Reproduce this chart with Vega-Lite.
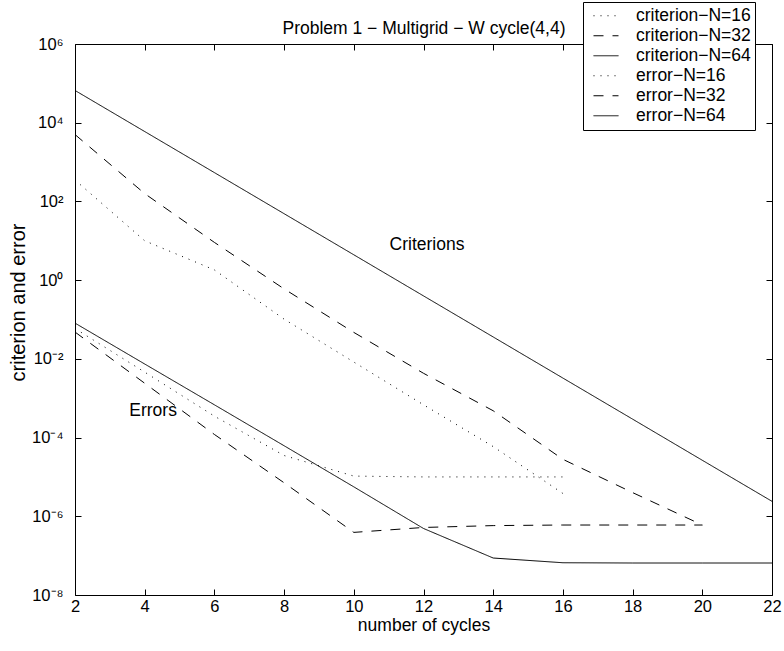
{
  "$schema": "https://vega.github.io/schema/vega-lite/v6.json",
  "width": 697,
  "height": 551,
  "autosize": {"type": "none"},
  "padding": {"left": 75, "top": 44, "right": 12, "bottom": 56},
  "background": "white",
  "config": {
    "font": "Liberation Sans",
    "view": {"stroke": "black", "strokeWidth": 1},
    "axis": {
      "grid": false,
      "domain": false,
      "tickColor": "black",
      "tickWidth": 1,
      "tickSize": -6,
      "labelColor": "black",
      "labelFont": "Liberation Sans",
      "labelFontSize": 16.5,
      "titleColor": "black",
      "titleFont": "Liberation Sans",
      "titleFontSize": 17.5,
      "titleFontWeight": "normal"
    }
  },
  "datasets": {
    "runs": [
      {"series": "criterion−N=16", "cycle": 2, "value": 350},
      {"series": "criterion−N=16", "cycle": 4, "value": 10},
      {"series": "criterion−N=16", "cycle": 6, "value": 1.82},
      {"series": "criterion−N=16", "cycle": 8, "value": 0.102},
      {"series": "criterion−N=16", "cycle": 10, "value": 0.0083},
      {"series": "criterion−N=16", "cycle": 12, "value": 0.00068},
      {"series": "criterion−N=16", "cycle": 14, "value": 0.000059},
      {"series": "criterion−N=16", "cycle": 16, "value": 0.0000038},

      {"series": "criterion−N=32", "cycle": 2, "value": 5000},
      {"series": "criterion−N=32", "cycle": 4, "value": 158},
      {"series": "criterion−N=32", "cycle": 6, "value": 9.1},
      {"series": "criterion−N=32", "cycle": 8, "value": 0.6},
      {"series": "criterion−N=32", "cycle": 10, "value": 0.047},
      {"series": "criterion−N=32", "cycle": 12, "value": 0.0043},
      {"series": "criterion−N=32", "cycle": 14, "value": 0.00048},
      {"series": "criterion−N=32", "cycle": 16, "value": 0.000028},
      {"series": "criterion−N=32", "cycle": 18, "value": 0.000004},
      {"series": "criterion−N=32", "cycle": 20, "value": 0.0000006},

      {"series": "criterion−N=64", "cycle": 2, "value": 66000},
      {"series": "criterion−N=64", "cycle": 4, "value": 5970},
      {"series": "criterion−N=64", "cycle": 6, "value": 540},
      {"series": "criterion−N=64", "cycle": 8, "value": 48.8},
      {"series": "criterion−N=64", "cycle": 10, "value": 4.41},
      {"series": "criterion−N=64", "cycle": 12, "value": 0.398},
      {"series": "criterion−N=64", "cycle": 14, "value": 0.036},
      {"series": "criterion−N=64", "cycle": 16, "value": 0.00325},
      {"series": "criterion−N=64", "cycle": 18, "value": 0.000294},
      {"series": "criterion−N=64", "cycle": 20, "value": 0.0000265},
      {"series": "criterion−N=64", "cycle": 22, "value": 0.0000024},

      {"series": "error−N=16", "cycle": 2, "value": 0.059},
      {"series": "error−N=16", "cycle": 4, "value": 0.0046},
      {"series": "error−N=16", "cycle": 6, "value": 0.00035},
      {"series": "error−N=16", "cycle": 8, "value": 0.000035},
      {"series": "error−N=16", "cycle": 10, "value": 0.0000105},
      {"series": "error−N=16", "cycle": 12, "value": 0.00001},
      {"series": "error−N=16", "cycle": 14, "value": 0.00001},
      {"series": "error−N=16", "cycle": 16, "value": 0.00001},

      {"series": "error−N=32", "cycle": 2, "value": 0.048},
      {"series": "error−N=32", "cycle": 4, "value": 0.0024},
      {"series": "error−N=32", "cycle": 6, "value": 0.00012},
      {"series": "error−N=32", "cycle": 8, "value": 0.0000071},
      {"series": "error−N=32", "cycle": 10, "value": 0.00000039},
      {"series": "error−N=32", "cycle": 12, "value": 0.00000052},
      {"series": "error−N=32", "cycle": 14, "value": 0.00000058},
      {"series": "error−N=32", "cycle": 16, "value": 0.0000006},
      {"series": "error−N=32", "cycle": 18, "value": 0.0000006},
      {"series": "error−N=32", "cycle": 20, "value": 0.0000006},

      {"series": "error−N=64", "cycle": 2, "value": 0.081},
      {"series": "error−N=64", "cycle": 4, "value": 0.0074},
      {"series": "error−N=64", "cycle": 6, "value": 0.00068},
      {"series": "error−N=64", "cycle": 8, "value": 0.000062},
      {"series": "error−N=64", "cycle": 10, "value": 0.0000056},
      {"series": "error−N=64", "cycle": 12, "value": 0.00000049},
      {"series": "error−N=64", "cycle": 14, "value": 0.000000087},
      {"series": "error−N=64", "cycle": 16, "value": 0.000000066},
      {"series": "error−N=64", "cycle": 18, "value": 0.000000065},
      {"series": "error−N=64", "cycle": 20, "value": 0.000000065},
      {"series": "error−N=64", "cycle": 22, "value": 0.000000065}
    ],
    "notes": [
      {"label": "Criterions", "cycle": 12.1, "value": 7.9},
      {"label": "Errors", "cycle": 4.24, "value": 0.00047}
    ]
  },
  "layer": [
    {
      "data": {"name": "runs"},
      "mark": {"type": "line", "color": "black", "strokeWidth": 1, "clip": true},
      "encoding": {
        "x": {
          "field": "cycle",
          "type": "quantitative",
          "scale": {"domain": [2, 22], "nice": false, "zero": false},
          "axis": {
            "orient": "bottom",
            "values": [2, 4, 6, 8, 10, 12, 14, 16, 18, 20, 22],
            "labelPadding": 9,
            "labelFlush": false,
            "title": "number of cycles",
            "titleY": 35,
            "titleBaseline": "alphabetic"
          }
        },
        "y": {
          "field": "value",
          "type": "quantitative",
          "scale": {"type": "log", "domain": [1e-8, 1000000], "nice": false},
          "axis": {
            "orient": "left",
            "values": [1e-8, 0.000001, 0.0001, 0.01, 1, 100, 10000, 1000000],
            "labelPadding": 18,
            "labelFlush": false,
            "labelExpr": "'10' + (round(log(datum.value)/LN10) < 0 ? '⁻' : '') + ['⁰','¹','²','³','⁴','⁵','⁶','⁷','⁸','⁹'][abs(round(log(datum.value)/LN10))]",
            "title": "criterion and error",
            "titleFontSize": 20,
            "titleX": -57,
            "titleY": 258,
            "titleAngle": -90,
            "titleBaseline": "middle"
          }
        },
        "strokeDash": {
          "field": "series",
          "type": "nominal",
          "scale": {
            "domain": ["criterion−N=16", "criterion−N=32", "criterion−N=64", "error−N=16", "error−N=32", "error−N=64"],
            "range": [[1, 6], [10, 9], [1, 0], [1, 6], [10, 9], [1, 0]]
          },
          "legend": {
            "title": null,
            "orient": "none",
            "legendX": 508,
            "legendY": -42,
            "symbolType": "stroke",
            "symbolSize": 625,
            "symbolStrokeWidth": 1,
            "symbolStrokeColor": "black",
            "symbolOffset": 6,
            "labelFont": "Liberation Sans",
            "labelFontSize": 17.5,
            "labelColor": "black",
            "labelOffset": 17,
            "clipHeight": 19.5,
            "rowPadding": 0,
            "padding": 4,
            "strokeColor": "black",
            "fillColor": "white",
            "cornerRadius": 0
          }
        }
      }
    },
    {
      "data": {"name": "notes"},
      "mark": {"type": "text", "font": "Liberation Sans", "fontSize": 17.5, "color": "black", "align": "center", "baseline": "middle"},
      "encoding": {
        "x": {
          "field": "cycle",
          "type": "quantitative",
          "axis": {
            "orient": "top",
            "values": [2, 4, 6, 8, 10, 12, 14, 16, 18, 20, 22],
            "labels": false,
            "title": "Problem 1 − Multigrid − W cycle(4,4)",
            "titleY": -11,
            "titleBaseline": "alphabetic"
          }
        },
        "y": {
          "field": "value",
          "type": "quantitative",
          "scale": {"type": "log"},
          "axis": {"orient": "right", "values": [1e-8, 0.000001, 0.0001, 0.01, 1, 100, 10000, 1000000], "labels": false, "title": null}
        },
        "text": {"field": "label"}
      }
    }
  ],
  "resolve": {"axis": {"x": "independent", "y": "independent"}}
}
